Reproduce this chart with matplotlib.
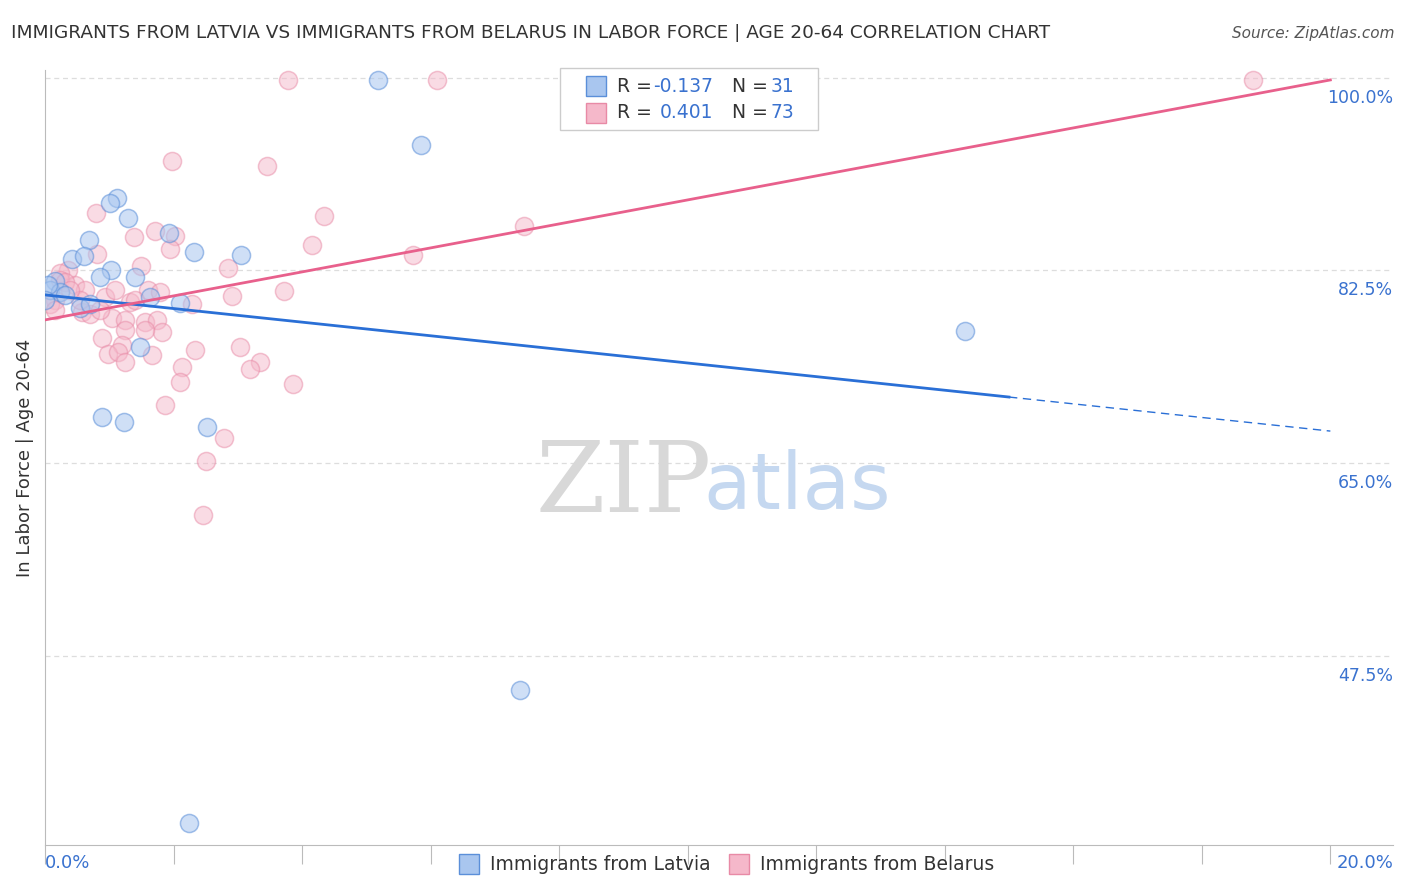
import matplotlib
matplotlib.use("Agg")
import matplotlib.pyplot as plt
import numpy as np

latvia_x = [5.18,5.85,1.12,1.01,1.29,1.93,0.68,2.32,3.05,0.42,0.61,1.03,0.86,1.40,0.16,0.08,0.23,1.63,2.10,0.54,0.70,1.48,0.89,1.23,2.52,14.32,7.39,2.24,0.05,0.31,0.0]
latvia_y = [99.8,93.9,89.1,88.6,87.3,85.9,85.3,84.2,83.9,83.5,83.8,82.5,81.9,81.9,81.5,80.7,80.5,80.1,79.5,79.1,79.4,75.5,69.2,68.7,68.3,77.0,44.4,32.3,81.2,80.3,79.8]
belarus_x = [3.78,6.10,18.80,1.98,3.46,0.79,4.34,7.46,1.39,1.71,2.02,4.16,1.95,5.73,0.81,2.85,1.49,0.36,0.23,2.91,3.72,0.23,0.47,0.62,0.93,1.09,1.32,1.60,1.79,2.29,0.58,0.70,1.04,1.25,1.56,1.74,1.25,1.82,0.89,1.20,3.04,1.67,0.98,1.14,1.25,3.35,2.13,3.19,2.10,3.86,1.87,2.79,2.51,2.46,0.16,0.08,0.31,0.86,2.33,1.40,1.56,0.54,0.39,0.16]
belarus_y = [99.8,99.8,99.8,92.4,92.0,87.7,87.4,86.5,85.5,86.1,85.6,84.8,84.4,83.9,84.0,82.7,82.9,82.5,82.3,80.2,80.6,81.6,81.2,80.7,80.1,80.7,79.6,80.7,80.5,79.4,78.7,78.5,78.2,78.0,77.8,78.0,77.1,76.9,76.4,75.7,75.5,74.8,74.9,75.1,74.2,74.2,73.7,73.5,72.4,72.2,70.3,67.3,65.2,60.3,79.8,79.4,81.4,78.9,75.3,79.8,77.1,79.8,80.7,78.9]
latvia_trend = [80.27, 67.9]   # y at x=0 and x=20
belarus_trend = [78.0, 99.8]
yticks = [47.5, 65.0, 82.5, 100.0]

blue_e, blue_f, blue_l = "#5b8fd9", "#a9c6ef", "#2a6fd6"
pink_e, pink_f, pink_l = "#e88aa6", "#f5b8ca", "#e8608c"

fig = plt.figure(figsize=(14.06, 8.92), dpi=100)
ax = fig.add_axes([0.032, 0.0527, 0.959, 0.8688])
ax.scatter(belarus_x, belarus_y, s=170, facecolor=pink_f, edgecolor=pink_e, alpha=0.5, lw=1.1, zorder=2)
ax.scatter(latvia_x, latvia_y, s=170, facecolor=blue_f, edgecolor=blue_e, alpha=0.55, lw=1.1, zorder=3)
def tl(t, x):
    return t[0] + (t[1]-t[0])*x/20
ax.plot([0, 15.0], [tl(latvia_trend, 0), tl(latvia_trend, 15.0)], color=blue_l, lw=2, zorder=4)
ax.plot([15.0, 20], [tl(latvia_trend, 15.0), tl(latvia_trend, 20)], color=blue_l, lw=1, ls=(0,(6,4)), zorder=4)
ax.plot([0, 20], [tl(belarus_trend, 0), tl(belarus_trend, 20)], color=pink_l, lw=2, zorder=4)

ax.set_xlim(0, 20.98)
ax.set_ylim(30.3, 100.7)
for y in yticks:
    ax.axhline(y, color="#dddddd", ls=(0,(4,3)), lw=0.9, zorder=0)
    ax.text(20.98, y-1.0, f"{y:.1f}%", ha="right", va="top", color="#3a72cf", fontsize=12.5)
ax.set_yticks([])
ax.set_xticks(np.arange(0, 21, 2))
ax.set_xticklabels([])
ax.tick_params(axis="x", length=14, color="#bbbbbb")
for s in ["top", "right"]:
    ax.spines[s].set_visible(False)
ax.spines["left"].set_color("#bbbbbb")
ax.spines["bottom"].set_color("#bbbbbb")
fig.text(0.032, 0.032, "0.0%", color="#3a72cf", fontsize=13, va="center")
fig.text(0.991, 0.032, "20.0%", color="#3a72cf", fontsize=13, va="center", ha="right")
ax.set_ylabel("In Labor Force | Age 20-64", fontsize=13, color="#333333", labelpad=8)

ax.text(9.0, 63, "ZIP", fontsize=72, color="#d8d8d8", ha="center", va="center", family="DejaVu Serif", zorder=1)
ax.text(11.7, 62.8, "atlas", fontsize=56, color="#c5d8f0", ha="center", va="center", zorder=1)

fig.text(0.008, 0.963, "IMMIGRANTS FROM LATVIA VS IMMIGRANTS FROM BELARUS IN LABOR FORCE | AGE 20-64 CORRELATION CHART", fontsize=13.3, color="#333333", va="center")
fig.text(0.992, 0.963, "Source: ZipAtlas.com", fontsize=11, color="#555555", ha="right", va="center", style="italic")

lx0, ly0 = 560/1406, 1-130/892
fig.patches.append(plt.Rectangle((lx0, ly0), 258/1406, 62/892, transform=fig.transFigure, fc="white", ec="#cccccc", lw=1))
for i, (fc, ec, r, n) in enumerate([(blue_f, blue_e, "-0.137", "31"), (pink_f, pink_e, "0.401", "73")]):
    yy = 1 - (86 + 27*i)/892
    fig.patches.append(plt.Rectangle((586/1406, yy-10/892), 20/1406, 20/892, transform=fig.transFigure, fc=fc, ec=ec, lw=1))
    fig.text(617/1406, yy, "R =", fontsize=13.5, color="#333333", va="center")
    fig.text(713/1406, yy, r, fontsize=13.5, color="#3a72cf", va="center", ha="right")
    fig.text(732/1406, yy, "N =", fontsize=13.5, color="#333333", va="center")
    fig.text(771/1406, yy, n, fontsize=13.5, color="#3a72cf", va="center")

for x0, fc, ec, lab in [(459, blue_f, blue_e, "Immigrants from Latvia"), (729, pink_f, pink_e, "Immigrants from Belarus")]:
    fig.patches.append(plt.Rectangle((x0/1406, 1-874/892), 20/1406, 20/892, transform=fig.transFigure, fc=fc, ec=ec, lw=1))
    fig.text((x0+31)/1406, 1-864/892, lab, fontsize=13.5, color="#333333", va="center")

fig.savefig("out.png", dpi=100)
